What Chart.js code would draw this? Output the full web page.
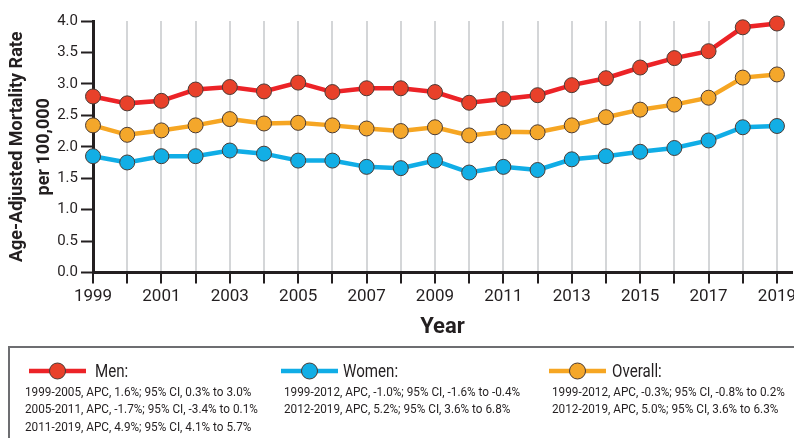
<!DOCTYPE html>
<html>
<head>
<meta charset="utf-8">
<script src="https://cdn.jsdelivr.net/npm/chart.js@4/dist/chart.umd.min.js"></script>
<style>
  html, body { margin: 0; padding: 0; background: #fff; }
  body { width: 794px; height: 438px; overflow: hidden; position: relative;
         font-family: Roboto, sans-serif; color: #231f20; }
  #wrap { position: absolute; left: 0; top: 0; width: 794px; height: 345px; }
  #legend { position: absolute; left: 0; top: 0; width: 794px; height: 438px; }
  #box { position: absolute; left: 8px; top: 346px; width: 800px; height: 120px;
         border: 2px solid #6d6e71; box-sizing: border-box; }
  .key { position: absolute; display: block; }
  .name { position: absolute; font-size: 18px; line-height: 20px; white-space: nowrap;
          transform: scaleX(0.84); transform-origin: 0 50%; }
  .stats { position: absolute; font-size: 13.5px; line-height: 17.3px; white-space: nowrap;
           transform: scaleX(0.87); transform-origin: 0 0; }
</style>
</head>
<body>
<div id="wrap"><canvas id="chart" width="794" height="345"></canvas></div>
<div id="legend"><div id="box"></div></div>
<script>
// data
const years = [1999,2000,2001,2002,2003,2004,2005,2006,2007,2008,2009,2010,2011,2012,2013,2014,2015,2016,2017,2018,2019];
const men     = [2.80,2.69,2.73,2.91,2.95,2.88,3.02,2.87,2.93,2.93,2.87,2.70,2.76,2.82,2.98,3.09,3.26,3.41,3.52,3.90,3.96];
const overall = [2.34,2.19,2.26,2.34,2.44,2.37,2.38,2.34,2.29,2.25,2.31,2.18,2.24,2.23,2.34,2.47,2.59,2.67,2.78,3.10,3.15];
const women   = [1.85,1.75,1.85,1.85,1.94,1.89,1.78,1.78,1.68,1.66,1.78,1.59,1.68,1.63,1.80,1.85,1.92,1.98,2.10,2.31,2.33];
const yTicks  = [0,0.5,1,1.5,2,2.5,3,3.5,4];

const seriesInfo = [
  { name: "Men", line: "#ec2327", fill: "#e8412a", data: men, keyX: 29, textX: 95, statsX: 25,
    stats: ["1999-2005, APC, 1.6%; 95% CI, 0.3% to 3.0%",
            "2005-2011, APC, -1.7%; 95% CI, -3.4% to 0.1%",
            "2011-2019, APC, 4.9%; 95% CI, 4.1% to 5.7%"] },
  { name: "Women", line: "#10ade6", fill: "#12aee5", data: women, keyX: 281, textX: 343, statsX: 284,
    stats: ["1999-2012, APC, -1.0%; 95% CI, -1.6% to -0.4%",
            "2012-2019, APC, 5.2%; 95% CI, 3.6% to 6.8%"] },
  { name: "Overall", line: "#f6a623", fill: "#f4a72b", data: overall, keyX: 549, textX: 612, statsX: 552,
    stats: ["1999-2012, APC, -0.3%; 95% CI, -0.8% to 0.2%",
            "2012-2019, APC, 5.0%; 95% CI, 3.6% to 6.3%"] },
];

const FONT = "Roboto, sans-serif";
const INK = "#231f20";

function ds(s) {
  return {
    label: s.name,
    data: years.map((y, i) => ({ x: y, y: s.data[i] })),
    borderColor: s.line,
    borderWidth: 4.5,
    pointRadius: 7.5,
    pointBackgroundColor: s.fill,
    pointBorderColor: "#4a3b35",
    pointBorderWidth: 1,
    tension: 0,
    clip: false,
  };
}

new Chart(document.getElementById("chart"), {
  type: "line",
  data: { datasets: [ds(seriesInfo[0]), ds(seriesInfo[2]), ds(seriesInfo[1])] },
  options: {
    responsive: false, animation: false,
    layout: { autoPadding: false, padding: { left: 0, top: 21, right: 2, bottom: 0 } },
    plugins: { legend: { display: false }, tooltip: { enabled: false } },
    scales: {
      x: {
        type: "linear", min: 1999, max: 2019.44,
        afterBuildTicks: sc => { sc.ticks = years.map(v => ({ value: v })); },
        afterFit: sc => { sc.height = 72.5; sc.paddingLeft = 0; sc.paddingRight = 0; },
        ticks: { autoSkip: false, maxRotation: 0, color: INK, padding: 3,
                 font: { family: FONT, size: 17 },
                 callback: v => (v % 2 === 1 ? String(v) : "") },
        grid: { color: "#d4d6d8", lineWidth: 2, tickColor: INK, tickWidth: 2, tickLength: 11 },
        border: { color: INK, width: 3 },
        title: { display: true, text: "Year", color: INK, padding: { top: 0, bottom: 4 },
                 font: { family: FONT, size: 22, weight: "bold" } },
      },
      y: {
        min: 0, max: 4,
        afterBuildTicks: sc => { sc.ticks = yTicks.map(v => ({ value: v })); },
        afterFit: sc => { sc.width = 93; },
        ticks: { color: INK, padding: 3, font: { family: FONT, size: 15 },
                 callback: v => v.toFixed(1) },
        grid: { drawOnChartArea: false, tickColor: INK, tickWidth: 2, tickLength: 12 },
        border: { color: INK, width: 3 },
        title: { display: true, text: ["Age-Adjusted Mortality Rate", "per 100,000"], color: INK,
                 padding: { top: 3.5, bottom: 0 },
                 font: { family: FONT, size: 18, weight: "bold", lineHeight: 1.5 } },
      },
    },
  },
});

// legend box below the chart (page coordinates)
const legend = document.getElementById("legend");
seriesInfo.forEach(s => {
  legend.insertAdjacentHTML("beforeend",
    '<svg class="key" width="60" height="22" style="left:' + (s.keyX - 1) + 'px;top:360px">' +
    '<line x1="1" y1="11" x2="58" y2="11" stroke="' + s.line + '" stroke-width="4.5"/>' +
    '<circle cx="29.5" cy="11" r="8" fill="' + s.fill + '" stroke="#4a3b35" stroke-width="1"/></svg>' +
    '<div class="name" style="left:' + s.textX + 'px;top:361px">' + s.name + ':</div>' +
    '<div class="stats" style="left:' + s.statsX + 'px;top:383px">' + s.stats.join("<br>") + '</div>');
});
</script>
</body>
</html>
